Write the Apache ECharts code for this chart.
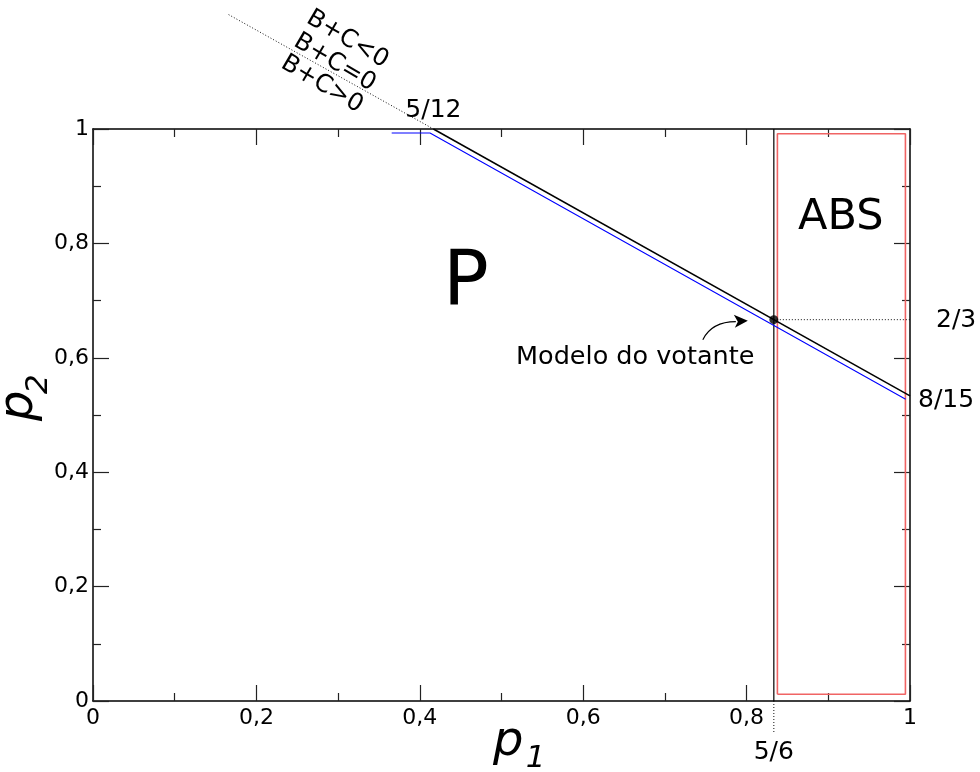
<!DOCTYPE html>
<html>
<head>
<meta charset="utf-8">
<script src="https://cdn.jsdelivr.net/npm/echarts@6/dist/echarts.min.js"></script>
<style>
  html, body { margin: 0; padding: 0; background: #fff; }
  #chart { width: 980px; height: 772px; }
</style>
</head>
<body>
<div id="chart"></div>
<script>
// Tick values and their printed labels (decimal comma)
const xTicks = [0, 0.2, 0.4, 0.6, 0.8, 1];
const xTickLabels = ['0', '0,2', '0,4', '0,6', '0,8', '1'];
const yTicks = [0, 0.2, 0.4, 0.6, 0.8, 1];
const yTickLabels = ['0', '0,2', '0,4', '0,6', '0,8', '1'];

// B+C = 0 boundary: from (5/12, 1) to (1, 8/15)
const boundaryLine = [[5 / 12, 1], [1, 8 / 15]];
// its dotted continuation above p2 = 1
const boundaryExtension = [[0.166, 1.2], [5 / 12, 1]];
// region edge (blue), drawn just below the boundary
const blueEdge = [[0.3656, 0.993], [0.4125, 0.993], [0.9947, 0.5275]];
// vertical line p1 = 5/6 and its dotted continuation below the axis
const verticalLine = [[5 / 6, 0], [5 / 6, 1]];
const verticalExtension = [[5 / 6, 0], [5 / 6, -0.0565]];
// dotted guide to 2/3
const guide23 = [[5 / 6, 2 / 3], [1.0266, 2 / 3]];
// ABS region outline
const absBox = [[0.8377, 0.0117], [0.9944, 0.0117], [0.9944, 0.9918], [0.8377, 0.9918], [0.8377, 0.0117]];
// voter model point
const voterPoint = [[5 / 6, 2 / 3]];

const FONT = 'DejaVu Sans';
const chart = echarts.init(document.getElementById('chart'), null, { renderer: 'canvas' });

function fmt(ticks, labels) {
  return function (v) {
    for (let i = 0; i < ticks.length; i++) {
      if (Math.abs(v - ticks[i]) < 1e-9) return labels[i];
    }
    return '';
  };
}

const tickLine = { color: '#222', width: 1.2 };
function xAx(pos, showLabels) {
  return {
    type: 'value', position: pos, min: 0, max: 1, interval: 0.2,
    axisLine: { show: true, onZero: false, lineStyle: { color: '#000', width: 1.5 } },
    axisTick: { show: true, inside: true, length: 16, lineStyle: tickLine },
    minorTick: { show: true, splitNumber: 2, length: 8, lineStyle: tickLine },
    splitLine: { show: false },
    axisLabel: { show: showLabels, formatter: fmt(xTicks, xTickLabels), fontFamily: FONT, fontSize: 22, color: '#000', margin: 6 }
  };
}
function yAx(pos, showLabels) {
  return {
    type: 'value', position: pos, min: 0, max: 1, interval: 0.2,
    axisLine: { show: true, onZero: false, lineStyle: { color: '#000', width: 1.5 } },
    axisTick: { show: true, inside: true, length: 16, lineStyle: tickLine },
    minorTick: { show: true, splitNumber: 2, length: 8, lineStyle: tickLine },
    splitLine: { show: false },
    axisLabel: { show: showLabels, formatter: fmt(yTicks, yTickLabels), fontFamily: FONT, fontSize: 22, color: '#000', margin: 4 }
  };
}

function lineSeries(data, color, width, type, clip) {
  return {
    type: 'line', data: data, xAxisIndex: 0, yAxisIndex: 0,
    symbol: 'none', clip: clip, silent: true,
    lineStyle: { color: color, width: width, type: type },
    z: 3
  };
}

const dots = [1, 2];
chart.setOption({
  animation: false,
  backgroundColor: '#fff',
  grid: { left: 93, right: 70, top: 129, bottom: 71, containLabel: false, outerBoundsMode: 'none' },
  xAxis: [xAx('bottom', true), xAx('top', false)],
  yAxis: [yAx('left', true), yAx('right', false)],
  series: [
    lineSeries(absBox, '#f06464', 1.6, 'solid', true),
    lineSeries(verticalLine, '#000', 1.2, 'solid', true),
    lineSeries(verticalExtension, '#111', 1, dots, false),
    lineSeries(guide23, '#111', 1, dots, false),
    lineSeries(boundaryExtension, '#111', 1, dots, false),
    lineSeries(blueEdge, '#0000ff', 1.1, 'solid', true),
    lineSeries(boundaryLine, '#000', 1.5, 'solid', true),
    {
      type: 'scatter', data: voterPoint, symbol: 'circle', symbolSize: 9,
      itemStyle: { color: '#000' }, silent: true, z: 5
    }
  ]
});

// Annotations placed in data coordinates
function px(p) { return chart.convertToPixel({ gridIndex: 0 }, p); }
function txt(p, s, size, align, vAlign, dx, dy, rot, italic) {
  const q = px(p);
  return {
    type: 'text', x: q[0] + (dx || 0), y: q[1] + (dy || 0), rotation: rot || 0,
    style: {
      text: s, fontFamily: FONT, fontSize: size, fill: '#000', align: align, verticalAlign: vAlign,
      fontStyle: italic ? 'italic' : 'normal'
    },
    z: 10
  };
}
const rot = -30.5 * Math.PI / 180;
const up = Math.PI / 2;
const dot = px(voterPoint[0]);
chart.setOption({
  graphic: [
    // axis titles p1 and p2 (italic with subscript)
    txt([0.4895, 0], 'p', 48, 'left', 'middle', 0, 42, 0, true),
    txt([0.5297, 0], '1', 31, 'left', 'middle', 0, 58, 0, true),
    txt([0, 0.4893], 'p', 48, 'left', 'middle', -73, 0, up, true),
    txt([0, 0.5366], '2', 31, 'left', 'middle', -54, 0, up, true),
    // fraction marks
    txt([5 / 12, 1], '5/12', 25, 'center', 'bottom', 0, -6),
    txt([1, 2 / 3], '2/3', 25, 'left', 'middle', 26, 1),
    txt([1, 8 / 15], '8/15', 25, 'left', 'middle', 8, 5),
    txt([5 / 6, 0], '5/6', 25, 'center', 'middle', 0, 51),
    // sign of B+C along the boundary
    txt([0.3114, 1.162], 'B+C<0', 24.5, 'center', 'middle', 0, 3, rot),
    txt([0.2958, 1.1213], 'B+C=0', 24.5, 'center', 'middle', 0, 3, rot),
    txt([0.2803, 1.0833], 'B+C>0', 24.5, 'center', 'middle', 0, 3, rot),
    // region names
    txt([0.4565, 0.726], 'P', 76, 'center', 'middle'),
    txt([0.9153, 0.845], 'ABS', 43, 'center', 'middle'),
    txt([0.6637, 0.6015], 'Modelo do votante', 25.5, 'center', 'middle'),
    {
      type: 'bezierCurve',
      shape: { x1: dot[0] - 71, y1: dot[1] + 20, cpx1: dot[0] - 62, cpy1: dot[1] + 2, x2: dot[0] - 38, y2: dot[1] + 2 },
      style: { stroke: '#000', lineWidth: 1.2, fill: null }, z: 10
    },
    {
      type: 'polygon',
      shape: { points: [[dot[0] - 26, dot[1] + 1], [dot[0] - 40, dot[1] - 5], [dot[0] - 36, dot[1] + 2], [dot[0] - 39, dot[1] + 8]] },
      style: { fill: '#000' }, z: 10
    }
  ]
});
</script>
</body>
</html>
